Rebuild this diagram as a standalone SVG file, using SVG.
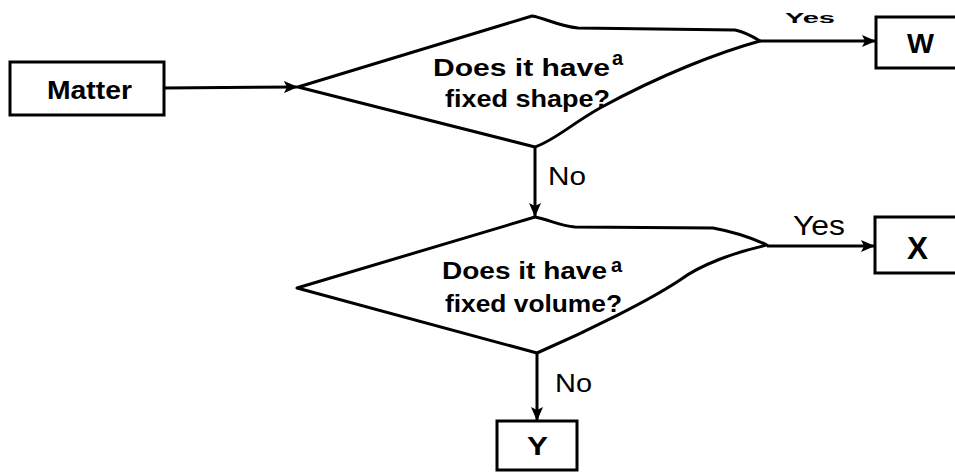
<svg xmlns="http://www.w3.org/2000/svg" width="955" height="472" viewBox="0 0 955 472">
<style>
.box{fill:#fff;stroke:#000;stroke-width:3}
.dia{fill:#fff;stroke:#000;stroke-width:3;stroke-linejoin:round}
.con{fill:none;stroke:#000;stroke-width:3}
.t{font-family:"Liberation Sans",Arial,sans-serif;font-weight:bold;fill:#000}
.l{font-family:"Liberation Sans",Arial,sans-serif;fill:#000}
</style>
<defs>
<marker id="ah" markerUnits="userSpaceOnUse" markerWidth="14" markerHeight="12" viewBox="0 0 14 12" refX="13" refY="6" orient="auto">
<path d="M0,0 L14,6 L0,12 L3,6 Z" fill="#000"/>
</marker>
</defs>
<rect width="955" height="472" fill="#fff"/>
<g id="connectors">
<path class="con" d="M164 88 L297 87" marker-end="url(#ah)"/>
<path class="con" d="M760 41 L875 41" marker-end="url(#ah)"/>
<path class="con" d="M535 147 L535 216" marker-end="url(#ah)"/>
<path class="con" d="M767 246 L874 246" marker-end="url(#ah)"/>
<path class="con" d="M537 353 L537 420" marker-end="url(#ah)"/>
<text class="t" x="785" y="23" font-size="14" textLength="50" lengthAdjust="spacingAndGlyphs">Yes</text>
<text class="l" x="793" y="235" font-size="28" textLength="52" lengthAdjust="spacingAndGlyphs">Yes</text>
<text class="l" x="548" y="185" font-size="25" textLength="38" lengthAdjust="spacingAndGlyphs">No</text>
<text class="l" x="555" y="392" font-size="25" textLength="37" lengthAdjust="spacingAndGlyphs">No</text>
</g>
<g id="matter">
<rect class="box" x="10" y="62" width="154" height="53"/>
<text class="t" x="47" y="99" font-size="25" textLength="85" lengthAdjust="spacingAndGlyphs">Matter</text>
</g>
<g id="q1">
<path class="dia" d="M298 87 L532 16 C545 18 558 26 578 28 L735 30 C745 32 752 36 760 41 C720 52 660 75 600 108 C570 125 555 140 535 147 Z"/>
<text class="t" x="433" y="76" font-size="23" textLength="177" lengthAdjust="spacingAndGlyphs">Does it have</text>
<text class="t" x="612" y="65" font-size="20">a</text>
<text class="t" x="445" y="107" font-size="23" textLength="165" lengthAdjust="spacingAndGlyphs">fixed shape?</text>
</g>
<g id="q2">
<path class="dia" d="M297 288 L535 217 C550 220 560 226 575 227 L713 228 C735 232 752 238 767 245 C735 252 700 265 680 280 C650 300 590 330 537 353 Z"/>
<text class="t" x="442" y="279" font-size="23" textLength="165" lengthAdjust="spacingAndGlyphs">Does it have</text>
<text class="t" x="611" y="272" font-size="20">a</text>
<text class="t" x="445" y="312" font-size="23" textLength="177" lengthAdjust="spacingAndGlyphs">fixed volume?</text>
</g>
<g id="w">
<rect class="box" x="876" y="17" width="90" height="51"/>
<text class="t" x="907" y="53" font-size="28" textLength="27" lengthAdjust="spacingAndGlyphs">W</text>
</g>
<g id="x">
<rect class="box" x="875" y="217" width="90" height="56"/>
<text class="t" x="907" y="259" font-size="32" textLength="21" lengthAdjust="spacingAndGlyphs">X</text>
</g>
<g id="y">
<rect class="box" x="497" y="421" width="80" height="49"/>
<text class="t" x="527" y="455" font-size="25" textLength="21" lengthAdjust="spacingAndGlyphs">Y</text>
</g>
</svg>
